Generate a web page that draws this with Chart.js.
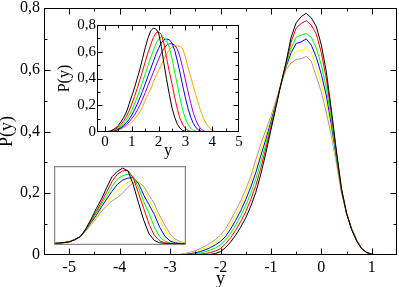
<!DOCTYPE html>
<html>
<head>
<meta charset="utf-8">
<script src="https://cdn.jsdelivr.net/npm/chart.js@4.4.0/dist/chart.umd.min.js"></script>
<style>
  body { margin: 0; background: #fff; }
  #wrap { position: relative; width: 399px; height: 287px; }
  #wrap canvas { position: absolute; }
</style>
</head>
<body>
<div id="wrap">
  <canvas id="main" width="399" height="287" style="left:0;top:0"></canvas>
  <canvas id="inset" width="210" height="145" style="left:40px;top:17px"></canvas>
  <canvas id="lower" width="132" height="79" style="left:54px;top:166px"></canvas>
</div>
<script>
// main plot
const mainX = [-2.8,-2.7,-2.6,-2.5,-2.4,-2.3,-2.2,-2.1,-2.0,-1.9,-1.8,-1.7,-1.6,-1.5,-1.4,-1.3,-1.2,-1.1,-1.0,-0.9,-0.8,-0.7,-0.6,-0.5,-0.4,-0.3,-0.2,-0.1,0,0.1,0.2,0.3,0.4,0.5,0.6,0.7,0.8,0.9,1.0,1.1,1.2];
const mainBlack  = [0,0,0,0,0,0.001,0.002,0.005,0.011,0.024,0.042,0.064,0.09,0.12,0.158,0.203,0.262,0.33,0.405,0.478,0.555,0.625,0.705,0.752,0.772,0.783,0.768,0.74,0.68,0.592,0.468,0.335,0.215,0.135,0.082,0.045,0.02,0.008,0.002,0,0];
const mainRed    = [0,0.001,0.001,0.002,0.003,0.005,0.008,0.013,0.021,0.036,0.056,0.08,0.108,0.14,0.18,0.225,0.282,0.345,0.414,0.482,0.555,0.62,0.69,0.735,0.75,0.759,0.745,0.715,0.655,0.57,0.455,0.33,0.213,0.135,0.083,0.046,0.02,0.008,0.002,0,0];
const mainGreen  = [0,0.001,0.002,0.004,0.007,0.011,0.016,0.023,0.033,0.048,0.07,0.096,0.126,0.16,0.2,0.246,0.302,0.36,0.423,0.487,0.555,0.615,0.67,0.705,0.712,0.718,0.705,0.67,0.615,0.54,0.435,0.32,0.209,0.135,0.084,0.047,0.02,0.008,0.002,0.001,0];
const mainBlue   = [0.001,0.002,0.004,0.007,0.011,0.017,0.024,0.033,0.044,0.06,0.084,0.112,0.143,0.179,0.22,0.267,0.322,0.375,0.432,0.492,0.553,0.61,0.655,0.685,0.69,0.70,0.68,0.64,0.585,0.515,0.42,0.312,0.206,0.135,0.085,0.048,0.021,0.008,0.003,0.001,0];
const mainYellow = [0.001,0.003,0.006,0.01,0.016,0.023,0.031,0.041,0.054,0.072,0.098,0.128,0.16,0.196,0.238,0.288,0.341,0.39,0.441,0.496,0.552,0.605,0.64,0.66,0.662,0.672,0.655,0.61,0.555,0.487,0.402,0.303,0.203,0.135,0.086,0.048,0.021,0.009,0.003,0.001,0];
const mainBrown  = [0.002,0.005,0.009,0.014,0.021,0.029,0.039,0.05,0.064,0.085,0.112,0.143,0.175,0.212,0.255,0.308,0.36,0.405,0.45,0.5,0.552,0.6,0.622,0.633,0.636,0.643,0.628,0.578,0.528,0.46,0.385,0.295,0.2,0.135,0.087,0.049,0.021,0.009,0.003,0.001,0];
const mainXTicks = [-5,-4,-3,-2,-1,0,1];
const mainYTicks = [0,0.2,0.4,0.6,0.8];

// upper inset
const insetX = [0,0.1,0.2,0.3,0.4,0.5,0.6,0.7,0.8,0.9,1.0,1.1,1.2,1.3,1.4,1.5,1.6,1.7,1.8,1.9,2.0,2.1,2.2,2.3,2.4,2.5,2.6,2.7,2.8,2.9,3.0,3.1,3.2,3.3,3.4,3.5,3.6,3.7,3.8,3.9,4.0,4.1,4.2];
const insetBlack  = [0,0.003,0.008,0.017,0.03,0.05,0.078,0.11,0.15,0.21,0.27,0.33,0.40,0.47,0.55,0.63,0.70,0.755,0.777,0.77,0.74,0.64,0.51,0.39,0.28,0.18,0.11,0.058,0.027,0.011,0.004,0.001,0,0,0,0,0,0,0,0,0,0,0];
const insetRed    = [0,0.002,0.006,0.012,0.022,0.037,0.058,0.085,0.118,0.16,0.21,0.265,0.325,0.39,0.455,0.525,0.59,0.65,0.705,0.74,0.748,0.73,0.66,0.55,0.45,0.36,0.26,0.17,0.1,0.055,0.027,0.011,0.004,0.001,0,0,0,0,0,0,0,0,0];
const insetGreen  = [0,0.001,0.004,0.009,0.017,0.028,0.044,0.065,0.092,0.125,0.165,0.21,0.26,0.315,0.375,0.435,0.495,0.555,0.61,0.66,0.695,0.712,0.705,0.68,0.63,0.55,0.45,0.35,0.25,0.165,0.1,0.055,0.027,0.011,0.004,0.001,0,0,0,0,0,0,0];
const insetBlue   = [0,0.001,0.003,0.007,0.013,0.022,0.034,0.05,0.07,0.095,0.127,0.165,0.208,0.255,0.305,0.36,0.415,0.47,0.525,0.58,0.625,0.665,0.69,0.695,0.69,0.665,0.61,0.53,0.44,0.345,0.255,0.175,0.11,0.062,0.031,0.013,0.005,0.001,0,0,0,0,0];
const insetViolet = [0,0.001,0.002,0.006,0.011,0.018,0.028,0.041,0.057,0.076,0.1,0.128,0.162,0.2,0.245,0.295,0.345,0.395,0.445,0.495,0.545,0.59,0.625,0.65,0.66,0.66,0.65,0.62,0.56,0.48,0.39,0.3,0.215,0.14,0.083,0.043,0.019,0.007,0.002,0,0,0,0];
const insetOrange = [0,0.001,0.002,0.005,0.009,0.015,0.023,0.033,0.045,0.058,0.075,0.095,0.12,0.15,0.19,0.235,0.28,0.32,0.37,0.42,0.46,0.5,0.55,0.585,0.615,0.635,0.64,0.645,0.64,0.62,0.56,0.48,0.41,0.34,0.27,0.2,0.14,0.09,0.055,0.03,0.013,0.005,0.001];
const insetXTicks = [0,1,2,3,4,5];
const insetYTicks = [0,0.2,0.4,0.6,0.8];

// lower inset (no axes)
const lowX = [0,0.2,0.4,0.6,0.8,1.0,1.2,1.4,1.6,1.8,2.0,2.2,2.4,2.6,2.8,3.0,3.2,3.4,3.6,3.8,4.0,4.2,4.4,4.6,4.8,5.0];
const lowBlack  = [0.002,0.004,0.01,0.018,0.04,0.07,0.15,0.25,0.36,0.46,0.58,0.69,0.745,0.778,0.75,0.61,0.42,0.24,0.1,0.032,0.008,0.001,0,0,0,0];
const lowRed    = [0.002,0.004,0.01,0.019,0.041,0.074,0.145,0.235,0.33,0.43,0.535,0.64,0.715,0.75,0.755,0.68,0.52,0.36,0.2,0.085,0.028,0.007,0.001,0,0,0];
const lowGreen  = [0.002,0.005,0.011,0.02,0.042,0.074,0.14,0.225,0.31,0.405,0.495,0.59,0.665,0.7,0.715,0.69,0.58,0.43,0.31,0.17,0.07,0.024,0.006,0.001,0,0];
const lowBlue   = [0.002,0.005,0.011,0.021,0.043,0.074,0.135,0.215,0.29,0.38,0.46,0.54,0.61,0.655,0.675,0.68,0.62,0.5,0.4,0.3,0.17,0.075,0.026,0.007,0.001,0];
const lowYellow = [0.003,0.005,0.012,0.021,0.044,0.075,0.13,0.205,0.275,0.355,0.425,0.49,0.545,0.59,0.635,0.66,0.64,0.56,0.45,0.35,0.25,0.14,0.065,0.025,0.007,0.001];
const lowBrown  = [0.003,0.006,0.012,0.022,0.045,0.075,0.125,0.195,0.26,0.335,0.39,0.44,0.475,0.52,0.58,0.625,0.635,0.59,0.5,0.41,0.29,0.19,0.1,0.045,0.017,0.004];

const FAMILY = "'Liberation Serif', 'DejaVu Serif', serif";
const fmt = v => String(v).replace('.', ',');

function serie(xs, ys, color) {
    return {
        data: xs.map((x, i) => ({ x: x, y: ys[i] })),
        borderColor: color,
        borderWidth: 1,
        pointRadius: 0,
        fill: false,
        tension: 0
    };
}

// marco y ticks hacia dentro en los cuatro lados
const framePlugin = {
    id: 'frame',
    afterDatasetsDraw(chart, args, opts) {
        const { ctx, chartArea: a } = chart;
        const L = Math.round(a.left) + 0.5, R = Math.round(a.right) - 0.5;
        const T = Math.round(a.top) + 0.5, B = Math.round(a.bottom) - 0.5;
        ctx.save();
        ctx.strokeStyle = opts.color || '#000';
        ctx.lineWidth = opts.width || 1;
        ctx.strokeRect(L, T, R - L, B - T);
        if (opts.xMajor) {
            const sx = chart.scales.x, sy = chart.scales.y;
            ctx.lineWidth = 1;
            ctx.beginPath();
            const xTick = (v, len) => {
                const p = Math.round(sx.getPixelForValue(v)) + 0.5;
                if (p <= L + 1 || p >= R - 1) return;
                ctx.moveTo(p, B); ctx.lineTo(p, B - len);
                ctx.moveTo(p, T); ctx.lineTo(p, T + len);
            };
            const yTick = (v, len) => {
                const p = Math.round(sy.getPixelForValue(v)) + 0.5;
                if (p <= T + 1 || p >= B - 1) return;
                ctx.moveTo(L, p); ctx.lineTo(L + len, p);
                ctx.moveTo(R, p); ctx.lineTo(R - len, p);
            };
            opts.xMajor.forEach(v => xTick(v, opts.major));
            opts.yMajor.forEach(v => yTick(v, opts.major));
            for (let k = Math.ceil(sx.min / opts.xMinor); k * opts.xMinor <= sx.max; k++) {
                const v = k * opts.xMinor;
                if (!opts.xMajor.some(m => Math.abs(m - v) < 1e-9)) xTick(v, opts.minor);
            }
            for (let k = Math.ceil(sy.min / opts.yMinor); k * opts.yMinor <= sy.max + 1e-9; k++) {
                const v = k * opts.yMinor;
                if (!opts.yMajor.some(m => Math.abs(m - v) < 1e-9)) yTick(v, opts.minor);
            }
            ctx.stroke();
        }
        ctx.restore();
    }
};

function ejes(c) {
    return {
        x: {
            type: 'linear', min: c.xMin, max: c.xMax,
            afterBuildTicks: s => { s.ticks = c.xTicks.map(v => ({ value: v })); },
            afterFit: s => { s.height = c.xHeight; s.paddingLeft = 0; s.paddingRight = 0; },
            grid: { display: false, drawTicks: false },
            border: { display: false },
            ticks: { font: { family: FAMILY, size: c.tickSize }, color: '#000', padding: c.xPad, maxRotation: 0, autoSkip: false, callback: v => fmt(v) },
            title: { display: true, text: 'y', color: '#000', font: { family: FAMILY, size: c.titleSize, lineHeight: c.xTitleLH }, padding: { top: 0, bottom: c.xTitlePad } }
        },
        y: {
            type: 'linear', min: c.yMin, max: c.yMax,
            afterBuildTicks: s => { s.ticks = c.yTicks.map(v => ({ value: v })); },
            afterFit: s => { s.width = c.yWidth; s.paddingTop = 0; s.paddingBottom = 0; },
            grid: { display: false, drawTicks: false },
            border: { display: false },
            ticks: { font: { family: FAMILY, size: c.tickSize }, color: '#000', padding: c.yPad, autoSkip: false, callback: v => fmt(v) },
            title: { display: true, text: 'P(y)', color: '#000', font: { family: FAMILY, size: c.titleSize, lineHeight: c.titleLH }, padding: { top: c.titleTop, bottom: 0 } }
        }
    };
}

const comun = {
    responsive: false,
    animation: false,
    events: [],
    plugins: { legend: { display: false }, tooltip: { enabled: false } }
};

new Chart(document.getElementById('main'), {
    type: 'line',
    data: {
        datasets: [
            serie(mainX, mainBlack, '#000000'),
            serie(mainX, mainRed, '#ff0000'),
            serie(mainX, mainGreen, '#00ff00'),
            serie(mainX, mainBlue, '#0000ff'),
            serie(mainX, mainYellow, '#ffff00'),
            serie(mainX, mainBrown, '#bc8f8f')
        ]
    },
    options: Object.assign({}, comun, {
        layout: { padding: { top: 8, right: 2, left: 0, bottom: 0 } },
        scales: ejes({ xMin: -5.5, xMax: 1.5, xTicks: mainXTicks, yMin: 0, yMax: 0.8, yTicks: mainYTicks,
                       tickSize: 16, titleSize: 18, yWidth: 44, xHeight: 32, xPad: 3, yPad: 4,
                       titleLH: 0.8, titleTop: 0, xTitleLH: 0.85, xTitlePad: 0 }),
        plugins: Object.assign({}, comun.plugins, {
            frame: { xMajor: mainXTicks, yMajor: mainYTicks, xMinor: 0.5, yMinor: 0.1, major: 6, minor: 3 }
        })
    }),
    plugins: [framePlugin]
});

new Chart(document.getElementById('inset'), {
    type: 'line',
    data: {
        datasets: [
            serie(insetX, insetBlack, '#000000'),
            serie(insetX, insetRed, '#ff0000'),
            serie(insetX, insetGreen, '#00ff00'),
            serie(insetX, insetBlue, '#0000ff'),
            serie(insetX, insetViolet, '#9400d3'),
            serie(insetX, insetOrange, '#ffa500')
        ]
    },
    options: Object.assign({}, comun, {
        layout: { padding: { top: 8, right: 11, left: 0, bottom: 0 } },
        scales: ejes({ xMin: -0.3, xMax: 5, xTicks: insetXTicks, yMin: 0, yMax: 0.8, yTicks: insetYTicks,
                       tickSize: 15, titleSize: 16, yWidth: 57, xHeight: 30, xPad: 1, yPad: 1,
                       titleLH: 1.2, titleTop: 15, xTitleLH: 0.7, xTitlePad: 6 }),
        plugins: Object.assign({}, comun.plugins, {
            frame: { xMajor: insetXTicks, yMajor: insetYTicks, xMinor: 0.5, yMinor: 0.1, major: 5, minor: 3 }
        })
    }),
    plugins: [framePlugin]
});

new Chart(document.getElementById('lower'), {
    type: 'line',
    data: {
        datasets: [
            serie(lowX, lowBlack, '#000000'),
            serie(lowX, lowRed, '#ff0000'),
            serie(lowX, lowGreen, '#00ff00'),
            serie(lowX, lowBlue, '#0000ff'),
            serie(lowX, lowYellow, '#ffff00'),
            serie(lowX, lowBrown, '#bc8f8f')
        ]
    },
    options: Object.assign({}, comun, {
        layout: { padding: 0 },
        scales: {
            x: { type: 'linear', min: 0, max: 5, display: false },
            y: { type: 'linear', min: -0.015, max: 0.8, display: false }
        },
        plugins: Object.assign({}, comun.plugins, {
            frame: { color: '#888888', width: 1.5 }
        })
    }),
    plugins: [framePlugin]
});
</script>
</body>
</html>
